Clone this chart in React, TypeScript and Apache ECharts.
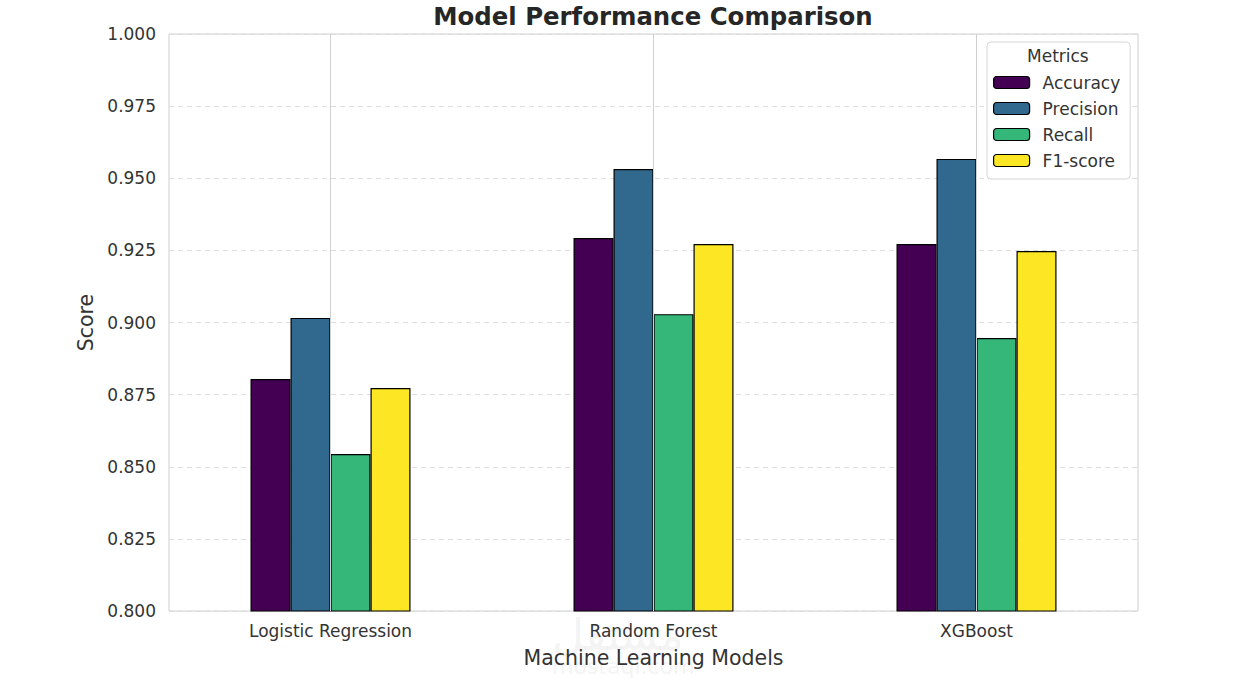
import React, { useEffect, useRef } from "react";
import * as echarts from "echarts";

const models = ["Logistic Regression", "Random Forest", "XGBoost"];
const metricNames = ["Accuracy", "Precision", "Recall", "F1-score"];
const accuracy = [0.8804, 0.9293, 0.9272];
const precision = [0.9016, 0.9532, 0.9567];
const recall = [0.8544, 0.9029, 0.8946];
const f1score = [0.8773, 0.9272, 0.9248];
const colors = ["#440154", "#31688e", "#35b779", "#fde725"];

export default function App() {
  const ref = useRef<HTMLDivElement>(null);
  useEffect(() => {
    document.body.style.margin = "0";
    const chart = echarts.init(ref.current!, null, { renderer: "svg" });
    const values = [accuracy, precision, recall, f1score];
    const font = "DejaVu Sans";
    const barSeries = metricNames.map((name, i) => ({
      name,
      type: "bar",
      data: values[i],
      barWidth: 40,
      barGap: "0%",
      z: 3,
      itemStyle: { color: colors[i], borderColor: "#000", borderWidth: 1.2 },
    }));
    chart.setOption({
      animation: false,
      textStyle: { fontFamily: font },
      title: {
        text: "Model Performance Comparison",
        left: 648,
        textAlign: "center",
        top: -1,
        textStyle: { fontSize: 24.4, fontWeight: "bold", color: "#262626", fontFamily: font },
      },
      grid: { left: 169, top: 34, width: 969, height: 577, show: true, borderColor: "#cfcfcf", borderWidth: 1 },
      legend: {
        orient: "vertical",
        left: 987,
        top: 42,
        data: metricNames,
        itemWidth: 36,
        itemHeight: 12,
        itemGap: 9,
        padding: [32, 10, 10, 6],
        borderColor: "#d6d6d6",
        borderWidth: 1,
        borderRadius: 4,
        backgroundColor: "#fff",
        textStyle: { fontSize: 17, color: "#333", lineHeight: 17, padding: [0, 0, 0, 8], fontFamily: font },
        itemStyle: { borderColor: "#000", borderWidth: 1.2 },
      },
      xAxis: {
        type: "category",
        data: models,
        name: "Machine Learning Models",
        nameLocation: "middle",
        nameGap: 36,
        nameTextStyle: { fontSize: 20.5, color: "#333", fontFamily: font },
        axisLine: { show: false },
        axisTick: { show: false },
        axisLabel: { fontSize: 17, color: "#333", margin: 11, fontFamily: font },
        splitLine: { show: false },
      },
      yAxis: {
        type: "value",
        min: 0.8,
        max: 1.0,
        interval: 0.025,
        name: "Score",
        nameLocation: "middle",
        nameGap: 71,
        nameTextStyle: { fontSize: 20.5, color: "#333", fontFamily: font },
        axisLine: { show: false },
        axisTick: { show: false },
        axisLabel: {
          fontSize: 17,
          color: "#333",
          margin: 13,
          fontFamily: font,
          formatter: (v: number) => v.toFixed(3),
        },
        splitLine: { show: true, lineStyle: { color: "#dddddd", type: [5, 4], width: 1 } },
      },
      series: [
        {
          type: "line",
          data: [],
          z: 1,
          silent: true,
          markLine: {
            silent: true,
            symbol: "none",
            label: { show: false },
            lineStyle: { color: "#d0d0d0", type: "solid", width: 1 },
            data: models.map((m) => ({ xAxis: m })),
          },
        },
        ...barSeries,
      ],
      graphic: [
        {
          type: "text",
          left: 1027,
          top: 47,
          style: { text: "Metrics", fontSize: 17, fill: "#333", fontFamily: font },
          z: 100,
        },
        {
          type: "text",
          left: 552,
          top: 612,
          style: { text: "مستقل", fontSize: 44, fill: "rgba(190,190,190,0.18)", fontFamily: "DejaVu Sans" },
          z: 0,
        },
        {
          type: "text",
          left: 552,
          top: 655,
          style: { text: "mostaql.com", fontSize: 22, fill: "rgba(190,190,190,0.18)", fontFamily: font },
          z: 0,
        },
      ],
    });
    return () => chart.dispose();
  }, []);
  return <div ref={ref} style={{ width: 1255, height: 690 }} />;
}
